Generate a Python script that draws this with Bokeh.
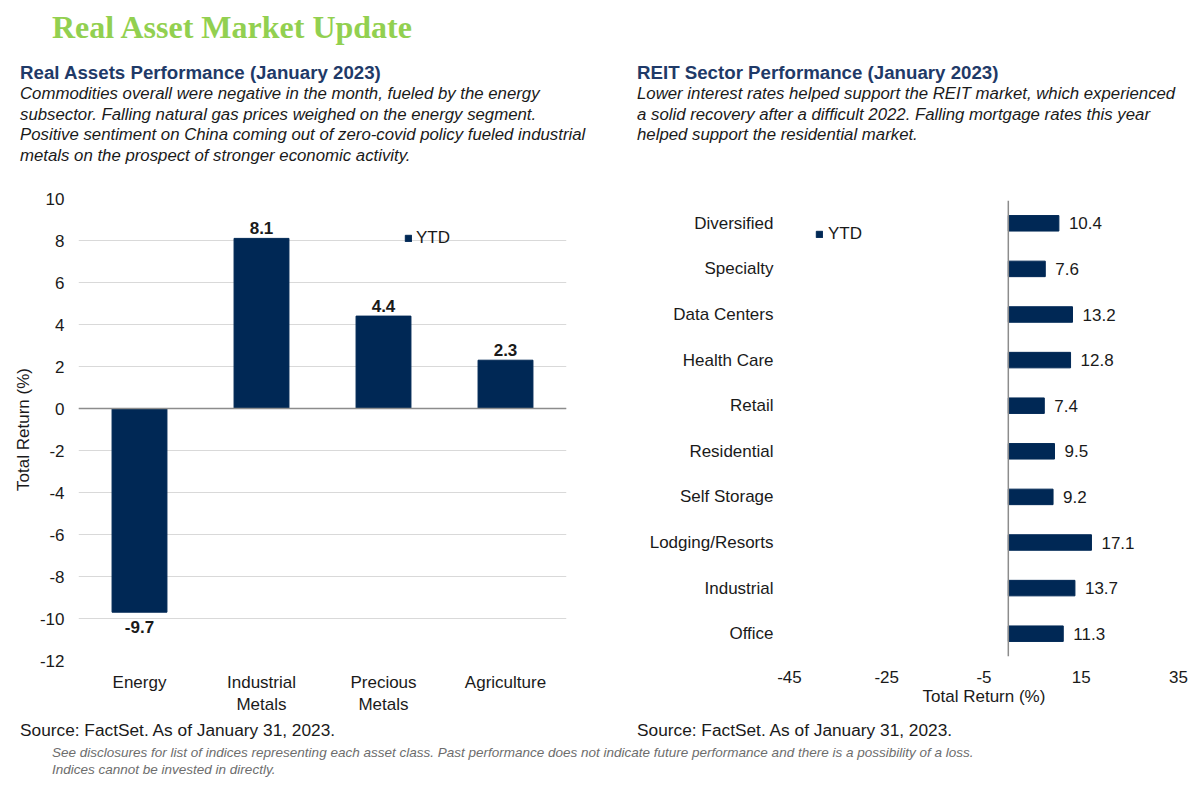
from bokeh.plotting import figure
from bokeh.models import ColumnDataSource, Div, FixedTicker, Span, Range1d, LinearAxis, FactorRange
from bokeh.layouts import column, row
from bokeh.embed import file_html
from bokeh.resources import INLINE
from bokeh.core.properties import value

# ---------------- data ----------------
asset_classes = ["Energy", "Industrial Metals", "Precious Metals", "Agriculture"]
asset_ytd = [-9.7, 8.1, 4.4, 2.3]
asset_label_line1 = ["Energy", "Industrial", "Precious", "Agriculture"]
asset_label_line2 = ["", "Metals", "Metals", ""]
asset_y_ticks = [-12, -10, -8, -6, -4, -2, 0, 2, 4, 6, 8, 10]

reit_sectors = ["Diversified", "Specialty", "Data Centers", "Health Care", "Retail",
                "Residential", "Self Storage", "Lodging/Resorts", "Industrial", "Office"]
reit_ytd = [10.4, 7.6, 13.2, 12.8, 7.4, 9.5, 9.2, 17.1, 13.7, 11.3]
reit_x_ticks = [-45, -25, -5, 15, 35]

page_title = "Real Asset Market Update"
left_title = "Real Assets Performance (January 2023)"
left_desc = [
    "Commodities overall were negative in the month, fueled by the energy",
    "subsector. Falling natural gas prices weighed on the energy segment.",
    "Positive sentiment on China coming out of zero-covid policy fueled industrial",
    "metals on the prospect of stronger economic activity.",
]
right_title = "REIT Sector Performance (January 2023)"
right_desc = [
    "Lower interest rates helped support the REIT market, which experienced",
    "a solid recovery after a difficult 2022. Falling mortgage rates this year",
    "helped support the residential market.",
]
source_text = "Source: FactSet. As of January 31, 2023."
footnote = [
    "See disclosures for list of indices representing each asset class. Past performance does not indicate future performance and there is a possibility of a loss.",
    "Indices cannot be invested in directly.",
]

# ---------------- styles ----------------
NAVY = "#002855"
FONT = "Liberation Sans"
TXT = "#1a1a1a"
FS = "17px"


def style_axis(ax):
    ax.axis_line_color = None
    ax.major_tick_line_color = None
    ax.minor_tick_line_color = None
    ax.major_tick_out = 0
    ax.major_tick_in = 0
    ax.minor_tick_out = 0
    ax.minor_tick_in = 0
    ax.major_label_text_font = FONT
    ax.major_label_text_font_size = FS
    ax.major_label_text_color = TXT
    ax.axis_label_text_font = FONT
    ax.axis_label_text_font_size = FS
    ax.axis_label_text_font_style = "normal"
    ax.axis_label_text_color = TXT


def style_common(p):
    p.outline_line_color = None
    p.background_fill_color = "white"
    p.border_fill_color = "white"
    for ax in p.axis:
        style_axis(ax)


def style_legend(p, loc, standoff):
    leg = p.legend[0]
    leg.location = loc
    leg.glyph_width = 8
    leg.glyph_height = 8
    leg.label_height = 8
    leg.label_standoff = standoff
    leg.padding = 0
    leg.margin = 0
    leg.spacing = 0
    leg.border_line_color = None
    leg.background_fill_alpha = 0
    leg.label_text_font = FONT
    leg.label_text_font_size = FS
    leg.label_text_color = TXT
    leg.label_text_baseline = "middle"


# ---------------- left chart ----------------
asset_pos = list(range(len(asset_classes)))
p1 = figure(x_range=Range1d(-0.5, len(asset_classes) - 0.5), y_range=Range1d(-12, 10),
            width=617, height=550, output_backend="svg", toolbar_location=None,
            min_border_left=70, min_border_right=59, min_border_top=30, min_border_bottom=58)
src1 = ColumnDataSource(dict(pos=asset_pos, cat=asset_classes, val=asset_ytd))
p1.vbar(x="pos", top="val", bottom=0, width=0.45, source=src1,
        fill_color=NAVY, line_color=NAVY, legend_label="YTD")

pos_idx = [i for i, v in enumerate(asset_ytd) if v >= 0]
neg_idx = [i for i, v in enumerate(asset_ytd) if v < 0]
src_pos = ColumnDataSource(dict(pos=[asset_pos[i] for i in pos_idx],
                                val=[asset_ytd[i] for i in pos_idx],
                                lab=[f"{asset_ytd[i]:.1f}" for i in pos_idx]))
src_neg = ColumnDataSource(dict(pos=[asset_pos[i] for i in neg_idx],
                                val=[asset_ytd[i] for i in neg_idx],
                                lab=[f"{asset_ytd[i]:.1f}" for i in neg_idx]))
p1.text(x="pos", y="val", text="lab", source=src_pos, text_align="center",
        text_baseline="bottom", y_offset=-4, text_font=value(FONT),
        text_font_size=FS, text_font_style="bold", text_color=TXT)
p1.text(x="pos", y="val", text="lab", source=src_neg, text_align="center",
        text_baseline="top", y_offset=9, text_font=value(FONT),
        text_font_size=FS, text_font_style="bold", text_color=TXT)

yt = FixedTicker(ticks=asset_y_ticks)
p1.yaxis.ticker = yt
p1.ygrid.ticker = yt
p1.ygrid.grid_line_color = "#d9d9d9"
p1.ygrid.grid_line_width = 1
p1.xgrid.visible = False
p1.add_layout(Span(location=0, dimension="width", line_color="#8c8c8c", line_width=1.5))

# category names: first line on the main x axis, second line on an extra axis below
xt1 = FixedTicker(ticks=asset_pos)
p1.xaxis.ticker = xt1
x2 = LinearAxis(ticker=FixedTicker(ticks=asset_pos))
p1.add_layout(x2, "below")
style_common(p1)
p1.yaxis.major_label_standoff = 14
p1.yaxis.major_label_overrides = {t: str(t) for t in asset_y_ticks}
p1.yaxis.axis_label = "Total Return (%)"
p1.yaxis.axis_label_standoff = 4
p1.xaxis[0].major_label_standoff = 12
p1.xaxis[0].major_label_overrides = dict(zip(asset_pos, asset_label_line1))
x2.major_label_standoff = 0
x2.major_label_overrides = dict(zip(asset_pos, asset_label_line2))
style_legend(p1, (326, 412), 4)

# ---------------- right chart ----------------
p2 = figure(y_range=FactorRange(*reversed(reit_sectors)), x_range=Range1d(-45, 35),
            width=567, height=550, output_backend="svg", toolbar_location=None,
            min_border_left=164, min_border_right=14, min_border_top=32, min_border_bottom=62)
src2 = ColumnDataSource(dict(cat=reit_sectors, val=reit_ytd,
                             lab=[f"{v:.1f}" for v in reit_ytd]))
p2.hbar(y="cat", right="val", left=0, height=0.34, source=src2,
        fill_color=NAVY, line_color=NAVY, legend_label="YTD")
p2.text(x="val", y="cat", text="lab", source=src2, text_align="left",
        text_baseline="middle", x_offset=10, text_font=value(FONT),
        text_font_size=FS, text_color=TXT)
xt = FixedTicker(ticks=reit_x_ticks)
p2.xaxis.ticker = xt
p2.xgrid.visible = False
p2.ygrid.visible = False
p2.add_layout(Span(location=0, dimension="height", line_color="#8c8c8c", line_width=1.5))
style_common(p2)
p2.xaxis.major_label_standoff = 14
p2.xaxis.major_label_overrides = {t: str(t) for t in reit_x_ticks}
p2.xaxis.axis_label = "Total Return (%)"
p2.xaxis.axis_label_standoff = 1
p2.yaxis.major_label_standoff = 16
style_legend(p2, (26, 412), 5)

# ---------------- text blocks ----------------
title_div = Div(
    text=(f'<div style="font-family:\'Liberation Serif\';font-size:32px;font-weight:bold;'
          f'color:#92D050;line-height:38px;padding-left:44px;white-space:nowrap">{page_title}</div>'),
    width=1184, height=50, margin=(0, 0, 0, 0))


def header(title, lines, w):
    body = "<br>".join(lines)
    html = (f'<div style="font-family:\'{FONT}\';padding-left:12px;padding-top:4px;white-space:nowrap">'
            f'<div style="font-size:18.7px;font-weight:bold;color:#1F3A68;line-height:22px">{title}</div>'
            f'<div style="font-size:16.8px;font-style:italic;color:{TXT};line-height:20.6px">{body}</div></div>')
    return Div(text=html, width=w, height=110, margin=(0, 0, 0, 0))


def source_div(w):
    html = (f'<div style="font-family:\'{FONT}\';font-size:17.3px;color:{TXT};line-height:24px;'
            f'padding-left:12px;white-space:nowrap">{source_text}</div>')
    return Div(text=html, width=w, height=24, margin=(0, 0, 0, 0))


foot_div = Div(
    text=(f'<div style="font-family:\'{FONT}\';font-size:13.5px;font-style:italic;color:#6d6d6d;'
          f'line-height:17px;padding-left:44px;padding-top:2px;white-space:nowrap">'
          + "<br>".join(footnote) + '</div>'),
    width=1184, height=36, margin=(0, 0, 0, 0))

left_col = column(header(left_title, left_desc, 617), p1, source_div(617), spacing=0)
right_col = column(header(right_title, right_desc, 567), p2, source_div(567), spacing=0)
layout = column(title_div, row(left_col, right_col, spacing=0), foot_div, spacing=0,
                margin=(8, 0, 0, 8))

open("out.html", "w").write(file_html(layout, INLINE, title="Real Asset Market Update"))
